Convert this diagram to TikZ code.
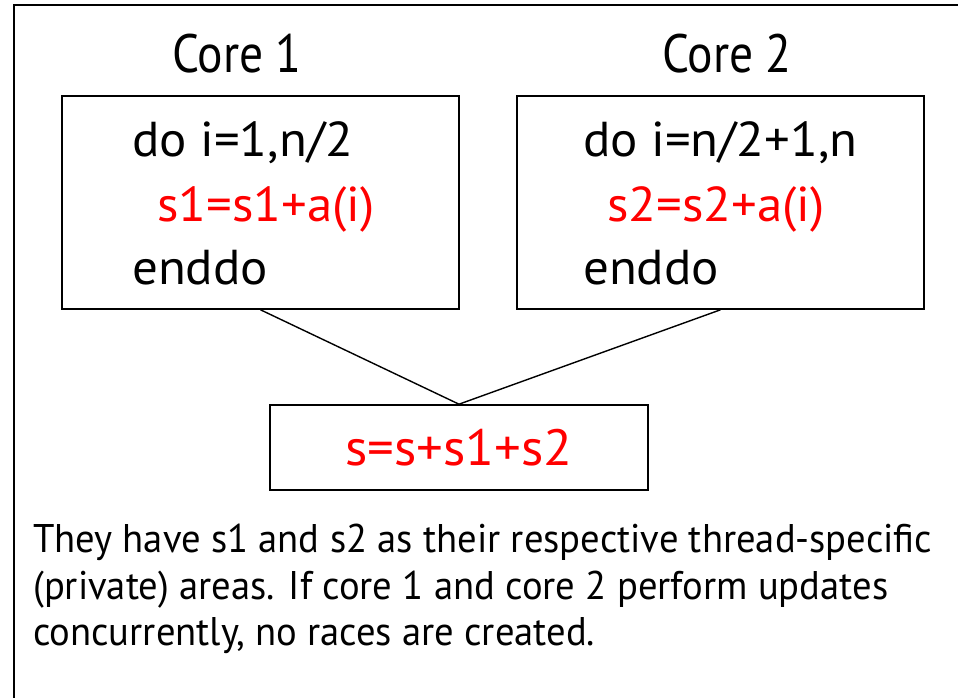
\documentclass[tikz,border=0pt]{standalone}
\usepackage{fontspec}
\setmainfont{PT Sans}
\newfontfamily\lblfont{PT Sans}[FakeStretch=0.88]
\newfontfamily\codefont{PT Sans}[FakeStretch=1.04]
\newfontfamily\parafont{PT Sans}[FakeStretch=0.965]
\definecolor{codered}{RGB}{255,0,0}
\begin{document}
\begin{tikzpicture}[x=1pt,y=1pt,
  box/.style={draw=black,line width=1.6pt,inner sep=0pt},
  lbl/.style={anchor=base,inner sep=0pt,font=\lblfont\fontsize{54}{60}\selectfont},
  code/.style={anchor=base west,inner sep=0pt,font=\codefont\fontsize{49}{60}\selectfont},
  para/.style={anchor=base west,inner sep=0pt,align=left,font=\parafont\fontsize{40}{47}\selectfont},
  wire/.style={draw=black,line width=1.4pt}]
\useasboundingbox (0,0) rectangle (961,698);
\draw[line width=2.2pt] (14,0) -- (14,693) -- (958,693);
% boxes
\node[box,minimum width=397pt,minimum height=213pt] (c1) at (260.5,495.5) {};
\node[box,minimum width=407pt,minimum height=213pt] (c2) at (720.5,495.5) {};
\node[box,minimum width=378pt,minimum height=85pt] (sum) at (459,250.5) {};
% labels
\node[lbl] (l1) at (237,625) {Core 1};
\node[lbl] (l2) at (727,625) {Core 2};
% code core 1
\node[code] (a1) at (132,541) {do i=1,n/2};
\node[code,text=codered] (a2) at (157,476) {s1=s1+a(i)};
\node[code] (a3) at (132,413) {enddo};
% code core 2
\node[code] (b1) at (583,541) {do i=n/2+1,n};
\node[code,text=codered] (b2) at (607,476) {s2=s2+a(i)};
\node[code] (b3) at (583,413) {enddo};
% sum
\node[anchor=base,inner sep=0pt,text=codered,font=\codefont\fontsize{51}{60}\selectfont] (st) at (459,232) {s=s+s1+s2};
% connectors
\draw[wire] (c1.south) -- (sum.north);
\draw[wire] (c2.south) -- (sum.north);
% paragraph
\node[para] (p1) at (33,145) {They have s1 and s2 as their respective thread-specific};
\node[para] (p2) at (33,98) {(private) areas. If core 1 and core 2 perform updates};
\node[para] (p3) at (33,52) {concurrently, no races are created.};
\end{tikzpicture}
\end{document}
